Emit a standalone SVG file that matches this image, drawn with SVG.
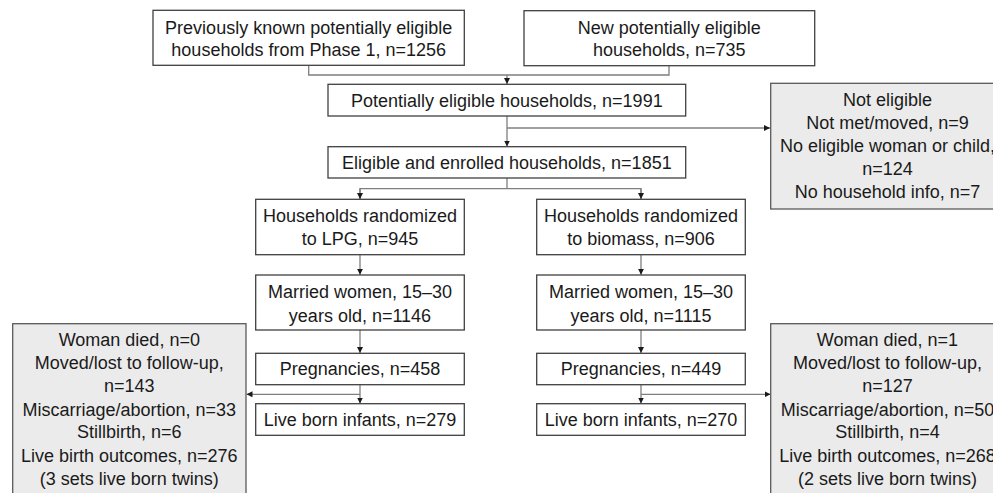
<svg xmlns="http://www.w3.org/2000/svg" width="993" height="493" viewBox="0 0 993 493">
<style>
.box{fill:#ffffff;stroke:#404040;stroke-width:1.3}
.gbox{fill:#ebebeb;stroke:#595959;stroke-width:1.3}
.t{font-family:"Liberation Sans",Arial,sans-serif;font-size:18px;fill:#1a1a1a;text-anchor:middle}
.c{fill:none;stroke:#7f7f7f;stroke-width:1.3}
</style>
<defs>
<marker id="ah" viewBox="0 0 10 10" refX="10" refY="5" markerWidth="6" markerHeight="6" markerUnits="userSpaceOnUse" orient="auto">
<path d="M0,0 L10,5 L0,10 z" fill="#1a1a1a"/>
</marker>
</defs>
<rect width="993" height="493" fill="#ffffff"/>
<g id="connectors">
<path class="c" d="M308.7,65.3 V75 H669 V65.7"/>
<path class="c" d="M507,75 V84" marker-end="url(#ah)"/>
<path class="c" d="M507,116 V146.5" marker-end="url(#ah)"/>
<path class="c" d="M507,128 H770" marker-end="url(#ah)"/>
<path class="c" d="M507,178 V188.7"/>
<path class="c" d="M360,199 V188.7 H641 V199"/>
<path class="c" d="M360,188.7 V199" marker-end="url(#ah)"/>
<path class="c" d="M641,188.7 V199" marker-end="url(#ah)"/>
<path class="c" d="M360,254.7 V274.8" marker-end="url(#ah)"/>
<path class="c" d="M641,254.7 V274.8" marker-end="url(#ah)"/>
<path class="c" d="M360,330 V353" marker-end="url(#ah)"/>
<path class="c" d="M641,330 V353" marker-end="url(#ah)"/>
<path class="c" d="M360,384.7 V403.5" marker-end="url(#ah)"/>
<path class="c" d="M641,384.7 V403.5" marker-end="url(#ah)"/>
<path class="c" d="M360,394.3 H246.5" marker-end="url(#ah)"/>
<path class="c" d="M641,394.3 H770.5" marker-end="url(#ah)"/>
</g>
<g id="prev">
<rect class="box" x="153" y="10.3" width="311.3" height="55"/>
<text class="t" x="308.7" y="33.5">Previously known potentially eligible</text>
<text class="t" x="308.7" y="56">households from Phase 1, n=1256</text>
</g>
<g id="new">
<rect class="box" x="524" y="10.7" width="290.7" height="55"/>
<text class="t" x="669.3" y="33.5">New potentially eligible</text>
<text class="t" x="669.3" y="56">households, n=735</text>
</g>
<g id="potential">
<rect class="box" x="328" y="84.3" width="357.7" height="31.7"/>
<text class="t" x="506.8" y="106.5">Potentially eligible households, n=1991</text>
</g>
<g id="noteligible">
<rect class="gbox" x="770.7" y="83.3" width="234" height="125.7"/>
<text class="t" x="887.5" y="105.5">Not eligible</text>
<text class="t" x="887.5" y="128.5">Not met/moved, n=9</text>
<text class="t" x="887.5" y="151.7">No eligible woman or child,</text>
<text class="t" x="887.5" y="175">n=124</text>
<text class="t" x="887.5" y="198">No household info, n=7</text>
</g>
<g id="enrolled">
<rect class="box" x="328" y="146.7" width="357.7" height="31.3"/>
<text class="t" x="506.8" y="168.8">Eligible and enrolled households, n=1851</text>
</g>
<g id="lpg">
<rect class="box" x="255.7" y="199.3" width="208.6" height="55.4"/>
<text class="t" x="360" y="221.7">Households randomized</text>
<text class="t" x="360" y="245">to LPG, n=945</text>
</g>
<g id="biomass">
<rect class="box" x="536.7" y="199.3" width="208.6" height="55.4"/>
<text class="t" x="641" y="221.7">Households randomized</text>
<text class="t" x="641" y="245">to biomass, n=906</text>
</g>
<g id="women-lpg">
<rect class="box" x="255.7" y="275" width="208.6" height="55"/>
<text class="t" x="360" y="298.3">Married women, 15–30</text>
<text class="t" x="360" y="321.7">years old, n=1146</text>
</g>
<g id="women-biomass">
<rect class="box" x="536.7" y="275" width="208.6" height="55"/>
<text class="t" x="641" y="298.3">Married women, 15–30</text>
<text class="t" x="641" y="321.7">years old, n=1115</text>
</g>
<g id="preg-lpg">
<rect class="box" x="255.7" y="353.3" width="208.6" height="31.4"/>
<text class="t" x="360" y="375">Pregnancies, n=458</text>
</g>
<g id="preg-biomass">
<rect class="box" x="536.7" y="353.3" width="208.6" height="31.4"/>
<text class="t" x="641" y="375">Pregnancies, n=449</text>
</g>
<g id="live-lpg">
<rect class="box" x="255.7" y="403.7" width="208.6" height="31.6"/>
<text class="t" x="360" y="426">Live born infants, n=279</text>
</g>
<g id="live-biomass">
<rect class="box" x="536.7" y="403.7" width="208.6" height="31.6"/>
<text class="t" x="641" y="426">Live born infants, n=270</text>
</g>
<g id="loss-lpg">
<rect class="gbox" x="12.7" y="323.7" width="233.3" height="180"/>
<text class="t" x="129.3" y="346">Woman died, n=0</text>
<text class="t" x="129.3" y="368.5">Moved/lost to follow-up,</text>
<text class="t" x="129.3" y="391.7">n=143</text>
<text class="t" x="129.3" y="415.5">Miscarriage/abortion, n=33</text>
<text class="t" x="129.3" y="438.3">Stillbirth, n=6</text>
<text class="t" x="129.3" y="461.7">Live birth outcomes, n=276</text>
<text class="t" x="129.3" y="485">(3 sets live born twins)</text>
</g>
<g id="loss-biomass">
<rect class="gbox" x="770.7" y="323.7" width="234" height="180"/>
<text class="t" x="887.5" y="346">Woman died, n=1</text>
<text class="t" x="887.5" y="368.5">Moved/lost to follow-up,</text>
<text class="t" x="887.5" y="391.7">n=127</text>
<text class="t" x="887.5" y="415.5">Miscarriage/abortion, n=50</text>
<text class="t" x="887.5" y="438.3">Stillbirth, n=4</text>
<text class="t" x="887.5" y="461.7">Live birth outcomes, n=268</text>
<text class="t" x="887.5" y="485">(2 sets live born twins)</text>
</g>
</svg>
